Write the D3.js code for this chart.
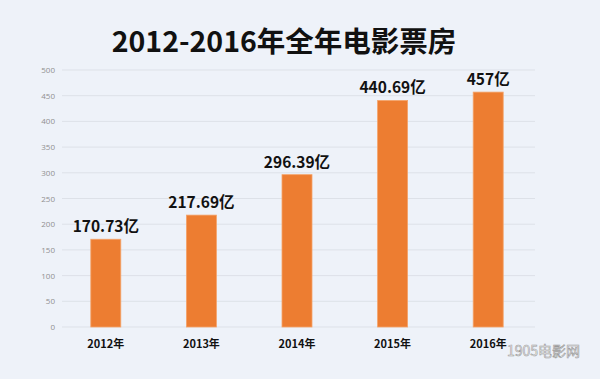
<!DOCTYPE html>
<html>
<head>
<meta charset="utf-8">
<script src="https://cdn.jsdelivr.net/npm/d3@7"></script>
<style>
  body { margin: 0; background: #eef2f9; }
  svg { display: block; }
</style>
</head>
<body>
<script>
const years = ['2012年', '2013年', '2014年', '2015年', '2016年'];
const values = [170.73, 217.69, 296.39, 440.69, 457];
const valueLabels = ['170.73亿', '217.69亿', '296.39亿', '440.69亿', '457亿'];
const yTicks = [0, 50, 100, 150, 200, 250, 300, 350, 400, 450, 500];

const W = 600, H = 379;
const svg = d3.select('body').append('svg')
  .attr('width', W)
  .attr('height', H);

svg.append('rect').attr('width', W).attr('height', H).attr('fill', '#eef2f9');

const x = d3.scaleBand().domain(years).range([58, 536]);
const y = d3.scaleLinear().domain([0, 500]).range([327, 70]);
const barW = 30;

// grid
svg.append('g').selectAll('line')
  .data(yTicks)
  .join('line')
  .attr('x1', 62).attr('x2', 535)
  .attr('y1', d => y(d)).attr('y2', d => y(d))
  .attr('stroke', '#dde1e8')
  .attr('stroke-width', 1);

// y axis labels
const yAxis = svg.append('g')
  .attr('transform', 'translate(55,0)')
  .call(d3.axisLeft(y).tickValues(yTicks).tickSize(0).tickPadding(0));
yAxis.select('.domain').remove();
yAxis.selectAll('text')
  .attr('fill', '#909090')
  .attr('font-family', 'Open Sans, sans-serif')
  .attr('font-size', 8);

// bars
svg.append('g').selectAll('rect')
  .data(values)
  .join('rect')
  .attr('x', (d, i) => x(years[i]) + x.bandwidth() / 2 - barW / 2)
  .attr('y', d => y(d))
  .attr('width', barW)
  .attr('height', d => y(0) - y(d))
  .attr('fill', '#ed7d31')
  .attr('stroke', '#f4a36a')
  .attr('stroke-width', 0.8);

// value labels
svg.append('g').selectAll('text')
  .data(values)
  .join('text')
  .attr('x', (d, i) => x(years[i]) + x.bandwidth() / 2)
  .attr('y', d => y(d) - 7)
  .attr('text-anchor', 'middle')
  .attr('font-family', 'Noto Sans CJK SC, sans-serif')
  .attr('font-weight', 'bold')
  .attr('font-size', 15.5)
  .attr('fill', '#111')
  .text((d, i) => valueLabels[i]);

// x labels
svg.append('g').selectAll('text')
  .data(years)
  .join('text')
  .attr('x', d => x(d) + x.bandwidth() / 2)
  .attr('y', 348)
  .attr('text-anchor', 'middle')
  .attr('font-family', 'Noto Sans CJK SC, sans-serif')
  .attr('font-weight', 'bold')
  .attr('font-size', 11)
  .attr('fill', '#111')
  .text(d => d);

// title
svg.append('text')
  .attr('x', 284)
  .attr('y', 52)
  .attr('text-anchor', 'middle')
  .attr('font-family', 'Noto Sans CJK SC, sans-serif')
  .attr('font-weight', 'bold')
  .attr('font-size', 28.5)
  .attr('fill', '#111')
  .text('2012-2016年全年电影票房');

// watermark
svg.append('text')
  .attr('x', 580)
  .attr('y', 356)
  .attr('text-anchor', 'end')
  .attr('font-family', 'Noto Sans CJK SC, sans-serif')
  .attr('font-size', 14)
  .attr('fill', '#ffffff')
  .attr('stroke', '#9a9a9a')
  .attr('stroke-width', 0.6)
  .text('1905电影网');
</script>
</body>
</html>
